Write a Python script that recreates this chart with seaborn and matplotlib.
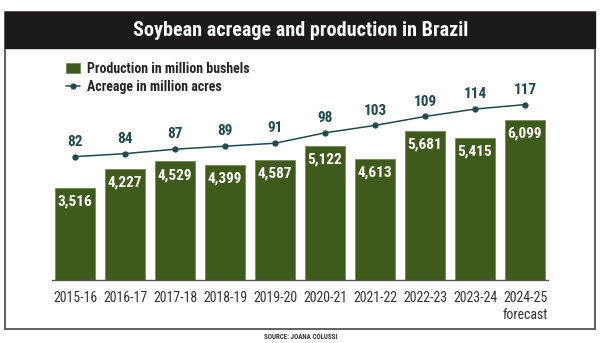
import matplotlib
matplotlib.use("Agg")
import matplotlib.pyplot as plt
from matplotlib.patches import Rectangle
import seaborn as sns
import pandas as pd

seasons = ['2015-16', '2016-17', '2017-18', '2018-19', '2019-20',
           '2020-21', '2021-22', '2022-23', '2023-24', '2024-25\nforecast']
production = [3516, 4227, 4529, 4399, 4587, 5122, 4613, 5681, 5415, 6099]
acreage = [82, 84, 87, 89, 91, 98, 103, 109, 114, 117]

sns.set_theme(style="white")
plt.rcParams['font.family'] = ['Roboto Condensed', 'DejaVu Sans']

W, H = 602, 343
fig = plt.figure(figsize=(W / 100, H / 100), dpi=100)

def fx(px):
    return px / W

def fy(py):
    return 1 - py / H

# frame and title bar (behind the axes)
fig.patches.append(Rectangle((fx(4.5), fy(329)), fx(590.5), (329 - 12) / H,
                             transform=fig.transFigure, facecolor='white',
                             edgecolor='#555555', lw=1.3, zorder=-5))
fig.patches.append(Rectangle((fx(4.5), fy(48)), fx(590.5), 36 / H,
                             transform=fig.transFigure, facecolor='#1c1a1a',
                             edgecolor='#1c1a1a', lw=1.0, zorder=-4))
fig.text(0.5, fy(30), 'Soybean acreage and production in Brazil', color='white',
         ha='center', va='center', fontsize=14.5, fontweight='bold')

df = pd.DataFrame({'season': seasons, 'production': production, 'acreage': acreage})

bar_color = '#3f5b1b'
line_color = '#1e4a50'

ax = fig.add_axes([fx(50), 1 - 280 / H, 500 / W, 220 / H])
ax.patch.set_alpha(0)
sns.barplot(data=df, x='season', y='production', color=bar_color, width=0.8,
            saturation=1, edgecolor='#718c55', linewidth=0.6, ax=ax,
            label='Production in million bushels')
ax.set_xlim(-0.5, 9.5)
ax.set_ylim(0, 8408)
for i, v in enumerate(production):
    ax.text(i, v - 520, f'{v:,}', ha='center', va='center', color='white',
            fontsize=11, fontweight='bold')

ax2 = ax.twinx()
ax2.patch.set_alpha(0)
sns.lineplot(data=df, x='season', y='acreage', color=line_color, marker='o',
             markersize=4.5, markeredgewidth=0, linewidth=1.1, ax=ax2,
             label='Acreage in million acres', sort=False)
ax2.set_ylim(-1, 147)
for i, v in enumerate(acreage):
    ax2.text(i, v + 10, str(v), ha='center', va='center', color=line_color,
             fontsize=11, fontweight='bold')

for a in (ax, ax2):
    a.set_xlabel('')
    a.set_ylabel('')
    a.set_yticks([])
    for s in a.spines.values():
        s.set_visible(False)
ax.spines['bottom'].set_visible(True)
ax.spines['bottom'].set_color('#555555')
ax.spines['bottom'].set_linewidth(1.0)
ax.spines['bottom'].set_bounds(-0.46, 9.46)
ax.tick_params(axis='x', length=0, pad=8, labelsize=10, labelcolor='#333333')
ax.set_xticks(range(len(seasons)))
ax.set_xticklabels(seasons, linespacing=1.25)
ax2.tick_params(axis='x', length=0)

h1, l1 = ax.get_legend_handles_labels()
h2, l2 = ax2.get_legend_handles_labels()
if ax2.get_legend():
    ax2.get_legend().remove()
if ax.get_legend():
    ax.get_legend().remove()
fig.legend(h1 + h2, l1 + l2, loc='upper left', bbox_to_anchor=(fx(66), fy(62)),
           frameon=False, prop={'weight': 'bold', 'size': 10},
           handlelength=1.0, handleheight=0.8, handletextpad=0.5,
           labelspacing=0.3, borderpad=0, borderaxespad=0)

fig.text(0.5, fy(337), 'SOURCE: JOANA COLUSSI', ha='center', va='center',
         fontsize=5, fontweight='bold', color='#333333')

fig.savefig('out.png', dpi=100)
